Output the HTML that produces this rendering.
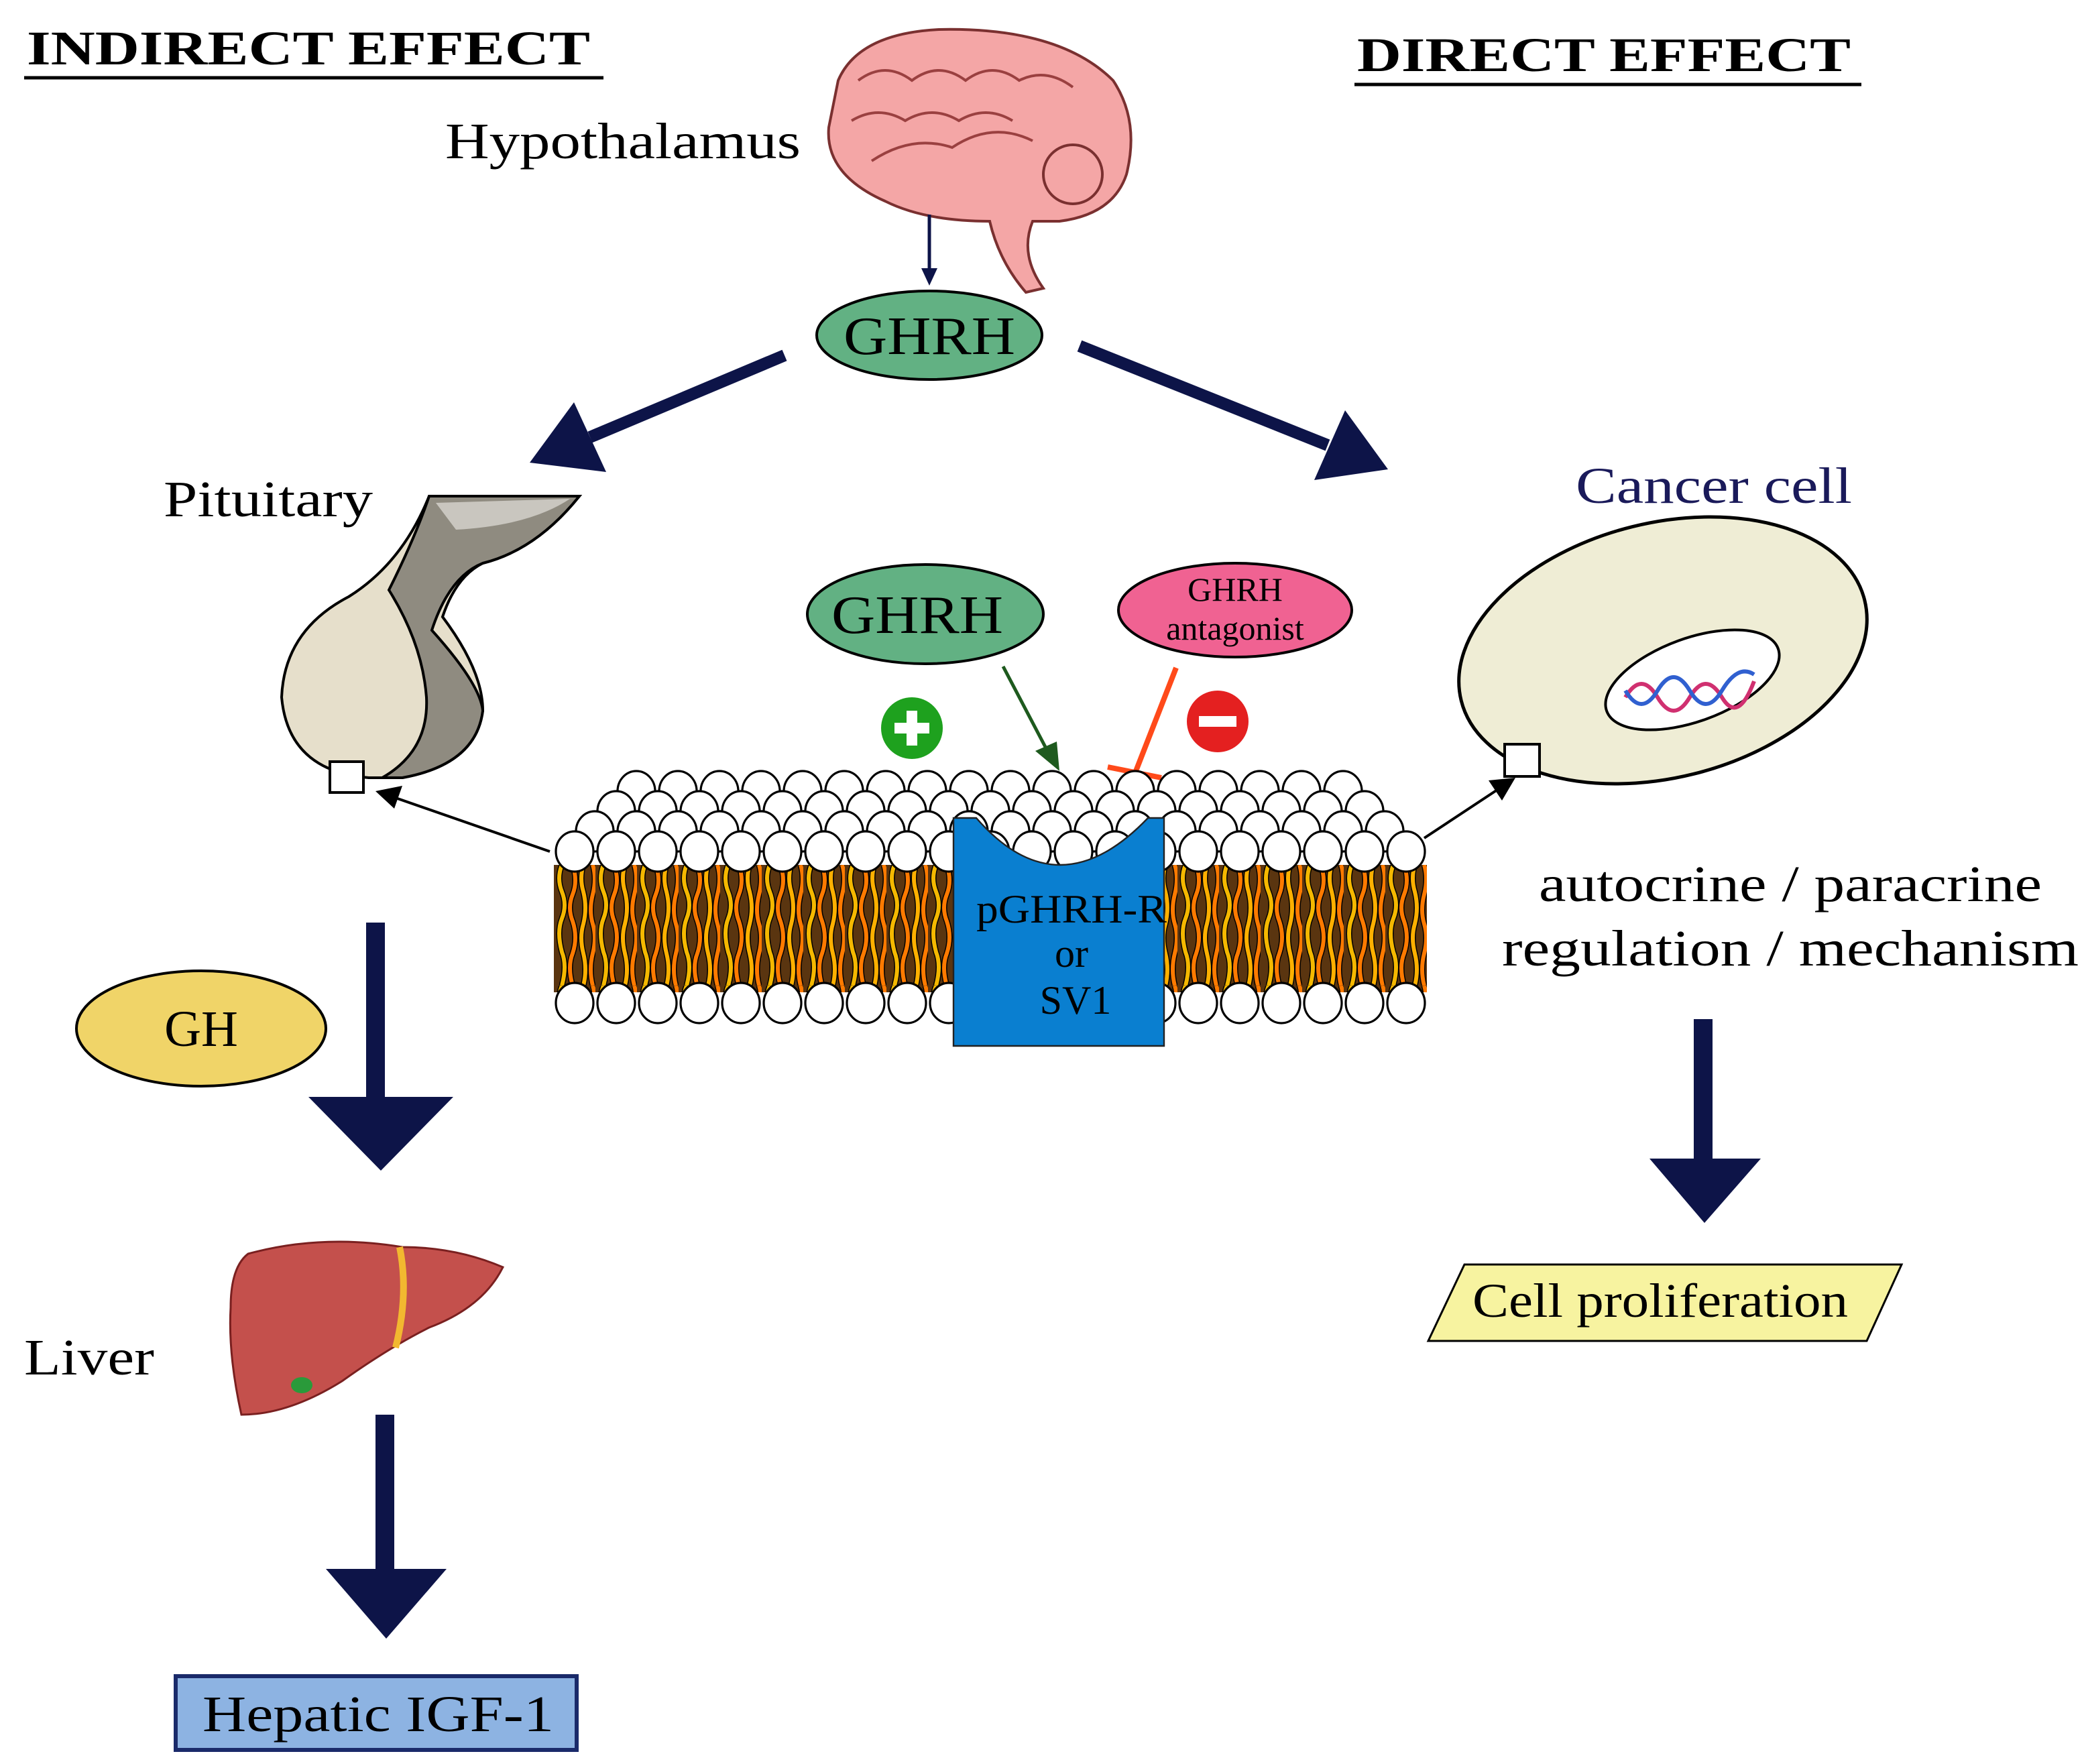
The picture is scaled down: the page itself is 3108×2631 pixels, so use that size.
<!DOCTYPE html>
<html><head><meta charset="utf-8"><style>
html,body{margin:0;padding:0;background:#fff;}
svg{display:block;}
text{font-family:"Liberation Serif",serif;}
</style></head><body>
<svg width="3108" height="2631" viewBox="0 0 1554 1315.5" xmlns="http://www.w3.org/2000/svg">
<defs>
<pattern id="rA" x="459" y="570" width="31" height="40" patternUnits="userSpaceOnUse"><ellipse cx="15.5" cy="20" rx="14" ry="15" fill="#fff" stroke="#000" stroke-width="1.6"/></pattern>
<pattern id="rB" x="444" y="585" width="31" height="40" patternUnits="userSpaceOnUse"><ellipse cx="15.5" cy="20" rx="14" ry="15" fill="#fff" stroke="#000" stroke-width="1.6"/></pattern>
<pattern id="rC" x="428" y="600" width="31" height="40" patternUnits="userSpaceOnUse"><ellipse cx="15.5" cy="20" rx="14" ry="15" fill="#fff" stroke="#000" stroke-width="1.6"/></pattern>
<pattern id="rF" x="413" y="615" width="31" height="40" patternUnits="userSpaceOnUse"><ellipse cx="15.5" cy="20" rx="14" ry="15" fill="#fff" stroke="#000" stroke-width="1.6"/></pattern>
<pattern id="rL" x="413" y="728" width="31" height="40" patternUnits="userSpaceOnUse"><ellipse cx="15.5" cy="20" rx="14" ry="15" fill="#fff" stroke="#000" stroke-width="1.6"/></pattern>
<pattern id="tails" x="413" y="645" width="31" height="90" patternUnits="userSpaceOnUse">
<rect width="31" height="90" fill="#5a3510"/>
<path d="M6 0 q-4 10 0 20 q4 10 0 20 q-4 10 0 25 q4 10 0 25" fill="none" stroke="#000" stroke-width="4.5"/>
<path d="M6 0 q-4 10 0 20 q4 10 0 20 q-4 10 0 25 q4 10 0 25" fill="none" stroke="#f5b800" stroke-width="3"/>
<path d="M14 0 q4 12 0 22 q-4 10 0 20 q4 12 0 24 q-4 10 0 24" fill="none" stroke="#000" stroke-width="4.5"/>
<path d="M14 0 q4 12 0 22 q-4 10 0 20 q4 12 0 24 q-4 10 0 24" fill="none" stroke="#ff7a00" stroke-width="3"/>
<path d="M22 0 q-3 10 0 20 q3 12 0 24 q-3 10 0 22 q3 12 0 24" fill="none" stroke="#000" stroke-width="4.5"/>
<path d="M22 0 q-3 10 0 20 q3 12 0 24 q-3 10 0 22 q3 12 0 24" fill="none" stroke="#ffb000" stroke-width="3"/>
<path d="M29 0 q3 10 0 22 q-3 12 0 22 q3 10 0 22 q-3 12 0 24" fill="none" stroke="#000" stroke-width="4.5"/>
<path d="M29 0 q3 10 0 22 q-3 12 0 22 q3 10 0 22 q-3 12 0 24" fill="none" stroke="#ff7a00" stroke-width="3"/>
</pattern>
</defs>

<!-- titles -->
<text x="20" y="48" font-size="36" font-weight="bold" textLength="420" lengthAdjust="spacingAndGlyphs">INDIRECT EFFECT</text>
<line x1="18" y1="58" x2="450" y2="58" stroke="#000" stroke-width="2.5"/>
<text x="1012" y="53" font-size="36" font-weight="bold" textLength="368" lengthAdjust="spacingAndGlyphs">DIRECT EFFECT</text>
<line x1="1010" y1="63" x2="1388" y2="63" stroke="#000" stroke-width="2.5"/>

<text x="332" y="118" font-size="38" textLength="265" lengthAdjust="spacingAndGlyphs">Hypothalamus</text>

<!-- brain -->
<path d="M625 60 Q640 25 700 22 Q790 20 830 60 Q850 90 840 130 Q830 160 790 165 L770 165 Q760 190 778 215 L765 218 Q745 195 738 165 Q690 165 660 150 Q615 130 618 95 Z" fill="#f4a6a6" stroke="#7a3030" stroke-width="2"/>
<path d="M640 60 q20 -15 40 0 q20 -15 40 0 q20 -15 40 0 q20 -10 40 5 M635 90 q20 -12 40 0 q20 -12 40 0 q20 -12 40 0 M650 120 q30 -20 60 -10 q30 -20 60 -5" fill="none" stroke="#9a4040" stroke-width="2"/>
<circle cx="800" cy="130" r="22" fill="#f4a6a6" stroke="#7a3030" stroke-width="2"/>
<line x1="693" y1="160" x2="693" y2="205" stroke="#0d1448" stroke-width="2.5"/>
<path d="M687 200 L699 200 L693 213 Z" fill="#0d1448"/>

<!-- GHRH top -->
<ellipse cx="693" cy="250" rx="84" ry="33" fill="#62b183" stroke="#000" stroke-width="2"/>
<text x="693" y="264" font-size="40" text-anchor="middle" textLength="128" lengthAdjust="spacingAndGlyphs">GHRH</text>

<!-- big diagonal arrows -->
<line x1="585" y1="265" x2="440" y2="326" stroke="#0d1448" stroke-width="9"/>
<path d="M395 345 L428 300 L452 352 Z" fill="#0d1448"/>
<line x1="805" y1="258" x2="990" y2="332" stroke="#0d1448" stroke-width="9"/>
<path d="M1035 350 L980 358 L1003 306 Z" fill="#0d1448"/>

<!-- pituitary -->
<text x="122" y="385" font-size="38" textLength="156" lengthAdjust="spacingAndGlyphs">Pituitary</text>
<path d="M320 370 L432 370 Q400 410 360 420 Q340 430 330 460 Q360 500 360 530 Q355 570 300 580 L275 580 Q215 575 210 520 Q212 470 260 445 Q300 420 320 370 Z" fill="#e6dfcb" stroke="#000" stroke-width="2"/>
<path d="M320 370 L432 370 Q400 410 360 420 Q335 430 322 470 Q358 510 360 530 Q355 570 300 580 L285 580 Q320 560 318 520 Q315 480 290 440 Q310 400 320 370 Z" fill="#8f8b80" stroke="#000" stroke-width="2"/>
<path d="M325 375 L425 372 Q395 392 340 395 Z" fill="#c9c6bf"/>
<rect x="246" y="568" width="25" height="23" fill="#fff" stroke="#000" stroke-width="2"/>

<!-- cancer cell -->
<text x="1175" y="375" font-size="38" fill="#1a1a5a" textLength="206" lengthAdjust="spacingAndGlyphs">Cancer cell</text>
<ellipse cx="1240" cy="485" rx="155" ry="95" transform="rotate(-14 1240 485)" fill="#efedd5" stroke="#000" stroke-width="2.5"/>
<ellipse cx="1262" cy="507" rx="68" ry="31" transform="rotate(-20 1262 507)" fill="#fff" stroke="#000" stroke-width="2"/>
<path d="M1212 520 q12 -20 24 0 q12 20 24 0 q12 -20 24 0 q12 20 24 -12" fill="none" stroke="#d03070" stroke-width="3"/>
<path d="M1212 515 q12 20 24 0 q12 -20 24 0 q12 20 24 0 q12 -20 24 -12" fill="none" stroke="#3060d0" stroke-width="3"/>
<rect x="1122" y="555" width="26" height="24" fill="#fff" stroke="#000" stroke-width="2"/>

<!-- GHRH center & antagonist -->
<ellipse cx="690" cy="458" rx="88" ry="37" fill="#62b183" stroke="#000" stroke-width="2"/>
<text x="684" y="472" font-size="40" text-anchor="middle" textLength="128" lengthAdjust="spacingAndGlyphs">GHRH</text>
<ellipse cx="921" cy="455" rx="87" ry="35" fill="#f06292" stroke="#000" stroke-width="2"/>
<text x="921" y="448" font-size="25" text-anchor="middle">GHRH</text>
<text x="921" y="477" font-size="25" text-anchor="middle">antagonist</text>
<circle cx="680" cy="543" r="23" fill="#1ea11e"/>
<rect x="667" y="539" width="26" height="8" fill="#fff"/><rect x="676" y="530" width="8" height="26" fill="#fff"/>
<circle cx="908" cy="538" r="23" fill="#e42020"/>
<rect x="894" y="534" width="28" height="8" fill="#fff"/>
<line x1="748" y1="497" x2="780" y2="558" stroke="#1e5a1e" stroke-width="2.5"/>
<path d="M772 560 L788 553 L790 575 Z" fill="#1e5a1e"/>
<line x1="877" y1="498" x2="847" y2="575" stroke="#ff4a1a" stroke-width="4"/>
<line x1="826" y1="572" x2="866" y2="580" stroke="#ff4a1a" stroke-width="4"/>

<!-- membrane -->
<rect x="413" y="645" width="651" height="95" fill="url(#tails)"/>
<rect x="459" y="570" width="558" height="40" fill="url(#rA)"/>
<rect x="444" y="585" width="589" height="40" fill="url(#rB)"/>
<rect x="428" y="600" width="620" height="40" fill="url(#rC)"/>
<rect x="413" y="615" width="651" height="40" fill="url(#rF)"/>
<rect x="413" y="728" width="651" height="40" fill="url(#rL)"/>
<path d="M711 610 L728 610 Q789 680 856 610 L868 610 L868 780 L711 780 Z" fill="#0a7fd0" stroke="#222" stroke-width="1.2"/>
<text x="799" y="688" font-size="30" text-anchor="middle" textLength="142" lengthAdjust="spacingAndGlyphs">pGHRH-R</text>
<text x="799" y="721" font-size="30" text-anchor="middle">or</text>
<text x="802" y="756" font-size="30" text-anchor="middle">SV1</text>

<!-- thin arrows -->
<line x1="410" y1="635" x2="295" y2="595" stroke="#000" stroke-width="2"/>
<path d="M280 590 L300 586 L294 603 Z" fill="#000"/>
<line x1="1062" y1="625" x2="1118" y2="588" stroke="#000" stroke-width="2"/>
<path d="M1130 580 L1110 582 L1120 597 Z" fill="#000"/>

<text x="1335" y="672" font-size="38" text-anchor="middle" textLength="375" lengthAdjust="spacingAndGlyphs">autocrine / paracrine</text>
<text x="1335" y="720" font-size="38" text-anchor="middle" textLength="430" lengthAdjust="spacingAndGlyphs">regulation / mechanism</text>

<!-- left down arrow -->
<rect x="273" y="688" width="14" height="132" fill="#0d1448"/>
<path d="M230 818 L338 818 L284 873 Z" fill="#0d1448"/>
<ellipse cx="150" cy="767" rx="93" ry="43" fill="#f0d468" stroke="#000" stroke-width="2"/>
<text x="150" y="780" font-size="38" text-anchor="middle">GH</text>

<!-- liver -->
<path d="M185 935 Q240 920 300 930 Q340 930 375 945 Q360 975 320 990 Q290 1005 255 1030 Q215 1055 180 1055 Q170 1010 172 975 Q172 945 185 935 Z" fill="#c4504c" stroke="#7a2020" stroke-width="1.5"/>
<path d="M298 930 Q305 965 295 1005" fill="none" stroke="#f2b830" stroke-width="5"/>
<ellipse cx="225" cy="1033" rx="8" ry="6" fill="#2a9a3a"/>
<text x="18" y="1025" font-size="38" textLength="97" lengthAdjust="spacingAndGlyphs">Liver</text>

<rect x="280" y="1055" width="14" height="117" fill="#0d1448"/>
<path d="M243 1170 L333 1170 L288 1222 Z" fill="#0d1448"/>
<rect x="131" y="1250" width="299" height="55" fill="#8db3e2" stroke="#1a2a6a" stroke-width="3"/>
<text x="282" y="1291" font-size="38" text-anchor="middle" textLength="262" lengthAdjust="spacingAndGlyphs">Hepatic IGF-1</text>

<!-- right down arrow -->
<rect x="1263" y="760" width="14" height="106" fill="#0d1448"/>
<path d="M1230 864 L1313 864 L1271 912 Z" fill="#0d1448"/>
<path d="M1065 1000 L1092 943 L1418 943 L1392 1000 Z" fill="#f7f3a0" stroke="#000" stroke-width="1.5"/>
<text x="1238" y="982" font-size="36" text-anchor="middle" textLength="280" lengthAdjust="spacingAndGlyphs">Cell proliferation</text>
</svg>
</body></html>
